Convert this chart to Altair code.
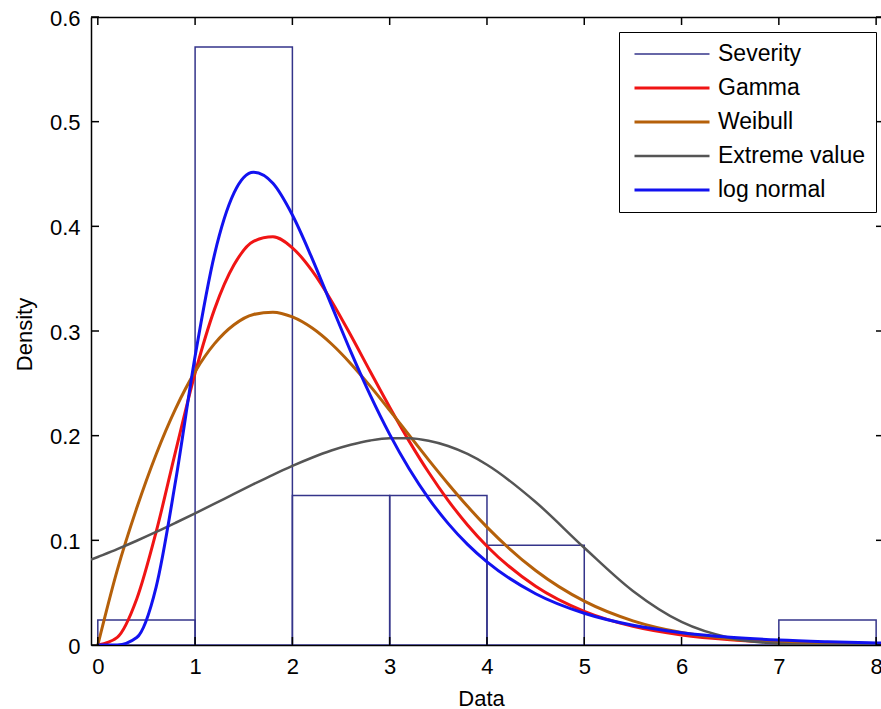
import altair as alt
import pandas as pd

FONT = "Liberation Sans"

# ---- data ----
x_grid = [-0.07, 0.0, 0.2, 0.4, 0.6, 0.8, 1.0, 1.2, 1.4, 1.6, 1.8, 2.0, 2.2, 2.4, 2.6, 2.8,
          3.0, 3.2, 3.4, 3.6, 3.8, 4.0, 4.5, 5.0, 5.5, 6.0, 6.5, 7.0, 7.5, 8.0, 8.05]

gamma_y = [0, 0, 0.0073, 0.0439, 0.1082, 0.1853, 0.2598, 0.3209, 0.3632, 0.3857, 0.3900,
           0.3795, 0.3579, 0.3290, 0.2959, 0.2613, 0.2272, 0.1948, 0.1650, 0.1382, 0.1147,
           0.0944, 0.0561, 0.0321, 0.0178, 0.0096, 0.0051, 0.0027, 0.0014, 0.0007, 0.0006]

weibull_y = [0, 0, 0.0716, 0.1308, 0.1823, 0.2259, 0.2612, 0.2879, 0.3060, 0.3158, 0.3180,
             0.3134, 0.3030, 0.2878, 0.2688, 0.2473, 0.2242, 0.2005, 0.1769, 0.1541, 0.1325,
             0.1126, 0.0712, 0.0419, 0.0231, 0.0119, 0.0058, 0.0026, 0.0011, 0.0005, 0.0004]

extreme_y = [0.0815, 0.0841, 0.0916, 0.0996, 0.1080, 0.1168, 0.1258, 0.1350, 0.1444, 0.1536,
             0.1626, 0.1711, 0.1789, 0.1858, 0.1913, 0.1954, 0.1975, 0.1975, 0.1951, 0.1901,
             0.1825, 0.1722, 0.1366, 0.0929, 0.0516, 0.0220, 0.0067, 0.0013, 0.0001, 0.0, 0.0]

lognormal_y = [0, 0, 0.00004, 0.0071, 0.0556, 0.1571, 0.2758, 0.3733, 0.4319, 0.4516, 0.4411,
               0.4108, 0.3699, 0.3249, 0.2803, 0.2387, 0.2012, 0.1684, 0.1402, 0.1162, 0.0961,
               0.0794, 0.0490, 0.0303, 0.0188, 0.0118, 0.0074, 0.0047, 0.0031, 0.0020, 0.0019]

bin_start = [0, 1, 2, 3, 4, 5, 6, 7]
bin_end = [1, 2, 3, 4, 5, 6, 7, 8]
severity_density = [0.0238, 0.5714, 0.1429, 0.1429, 0.0952, 0.0, 0.0, 0.0238]

series_names = ["Severity", "Gamma", "Weibull", "Extreme value", "log normal"]
series_colors = ["#34348a", "#f01414", "#b5600a", "#555555", "#1212f0"]
series_widths = [1.5, 3, 3, 2.5, 3]

x_ticks = [0, 1, 2, 3, 4, 5, 6, 7, 8]
y_ticks = [0, 0.1, 0.2, 0.3, 0.4, 0.5, 0.6]

# ---- tables ----
hist_df = pd.DataFrame({"x0": bin_start, "x1": bin_end, "density": severity_density,
                        "base": [0.0] * len(bin_start),
                        "series": ["Severity"] * len(bin_start)})
curves = []
for name, ys_ in [("Gamma", gamma_y), ("Weibull", weibull_y),
                  ("Extreme value", extreme_y), ("log normal", lognormal_y)]:
    d = pd.DataFrame({"x": x_grid, "y": ys_, "series": name})
    if name != "Extreme value":
        d = d[d["x"] >= 0]  # these fits start at zero
    curves.append(d)
curve_df = pd.concat(curves, ignore_index=True)
xt_df = pd.DataFrame({"t": x_ticks})
yt_df = pd.DataFrame({"t": y_ticks})

W, H = 790, 628
xs = alt.Scale(domain=[-0.07, 8.05], nice=False, zero=False)
ys = alt.Scale(domain=[0, 0.6], nice=False, zero=False)
color_scale = alt.Scale(type="ordinal", domain=series_names, range=series_colors)
width_scale = alt.Scale(type="ordinal", domain=series_names, range=series_widths)

legend = alt.Legend(title=None, orient="none", legendX=528, legendY=15,
                    symbolType="stroke", symbolSize=5625, clipHeight=24,
                    rowPadding=10, padding=10, symbolOffset=4, labelOffset=7,
                    labelFont=FONT, labelFontSize=23, labelColor="black",
                    strokeColor="black", fillColor="white", direction="vertical")

x_axis = alt.Axis(orient="bottom", values=x_ticks, format="d", ticks=False, tickSize=0,
                  labelPadding=11, labelFont=FONT, labelFontSize=22, labelColor="black",
                  labelOverlap=False, domainColor="black", domainWidth=1.5, grid=False,
                  title="Data", titleFont=FONT, titleFontSize=22, titleFontWeight="normal",
                  titleColor="black", titleX=390, titleY=60, titleBaseline="alphabetic",
                  titleAlign="center")
y_axis = alt.Axis(orient="left", values=y_ticks, format="~g", ticks=False, tickSize=0,
                  labelPadding=11, labelOffset=1, labelFont=FONT, labelFontSize=22,
                  labelColor="black", labelOverlap=False, domainColor="black",
                  domainWidth=1.5, grid=False, title="Density", titleFont=FONT,
                  titleFontSize=22, titleFontWeight="normal", titleColor="black",
                  titleAngle=270, titleX=-60, titleY=317, titleBaseline="alphabetic",
                  titleAlign="center")
top_axis = alt.Axis(orient="top", labels=False, ticks=False, domain=True,
                    domainColor="black", domainWidth=1.5, grid=False, title=None)

bars = alt.Chart(hist_df).mark_rect(filled=False, clip=True).encode(
    x=alt.X("x0:Q", scale=xs, axis=x_axis),
    x2="x1:Q",
    y=alt.Y("density:Q", scale=ys, axis=y_axis),
    y2="base:Q",
    stroke=alt.Stroke("series:N", scale=color_scale, legend=legend),
    strokeWidth=alt.StrokeWidth("series:N", scale=width_scale, legend=legend),
)

lines = alt.Chart(curve_df).mark_line(interpolate="monotone", clip=True).encode(
    x=alt.X("x:Q", scale=xs, axis=None),
    y=alt.Y("y:Q", scale=ys, axis=None),
    stroke=alt.Stroke("series:N", scale=color_scale, legend=legend),
    strokeWidth=alt.StrokeWidth("series:N", scale=width_scale, legend=legend),
)

tick_style = dict(color="black", strokeWidth=1.5)
ticks_bottom = alt.Chart(xt_df).mark_rule(**tick_style).encode(
    x=alt.X("t:Q", scale=xs, axis=None), y=alt.value(H), y2=alt.value(H - 8))
ticks_top = alt.Chart(xt_df).mark_rule(**tick_style).encode(
    x=alt.X("t:Q", scale=xs, axis=top_axis), y=alt.value(0), y2=alt.value(8))
ticks_left = alt.Chart(yt_df).mark_rule(**tick_style).encode(
    y=alt.Y("t:Q", scale=ys, axis=None), x=alt.value(0), x2=alt.value(8))
ticks_right = alt.Chart(yt_df).mark_rule(**tick_style).encode(
    y=alt.Y("t:Q", scale=ys, axis=None), x=alt.value(W - 5), x2=alt.value(W))

chart = alt.layer(bars, lines, ticks_bottom, ticks_top, ticks_left, ticks_right).resolve_axis(
    x="independent", y="independent"
).properties(
    width=W, height=H,
    padding={"left": 91, "top": 17, "right": 0, "bottom": 64},
    autosize=alt.AutoSizeParams(type="none"),
    background="white",
).configure_view(stroke="transparent")

chart.save("out.html", embed_options={"renderer": "svg", "actions": False})
